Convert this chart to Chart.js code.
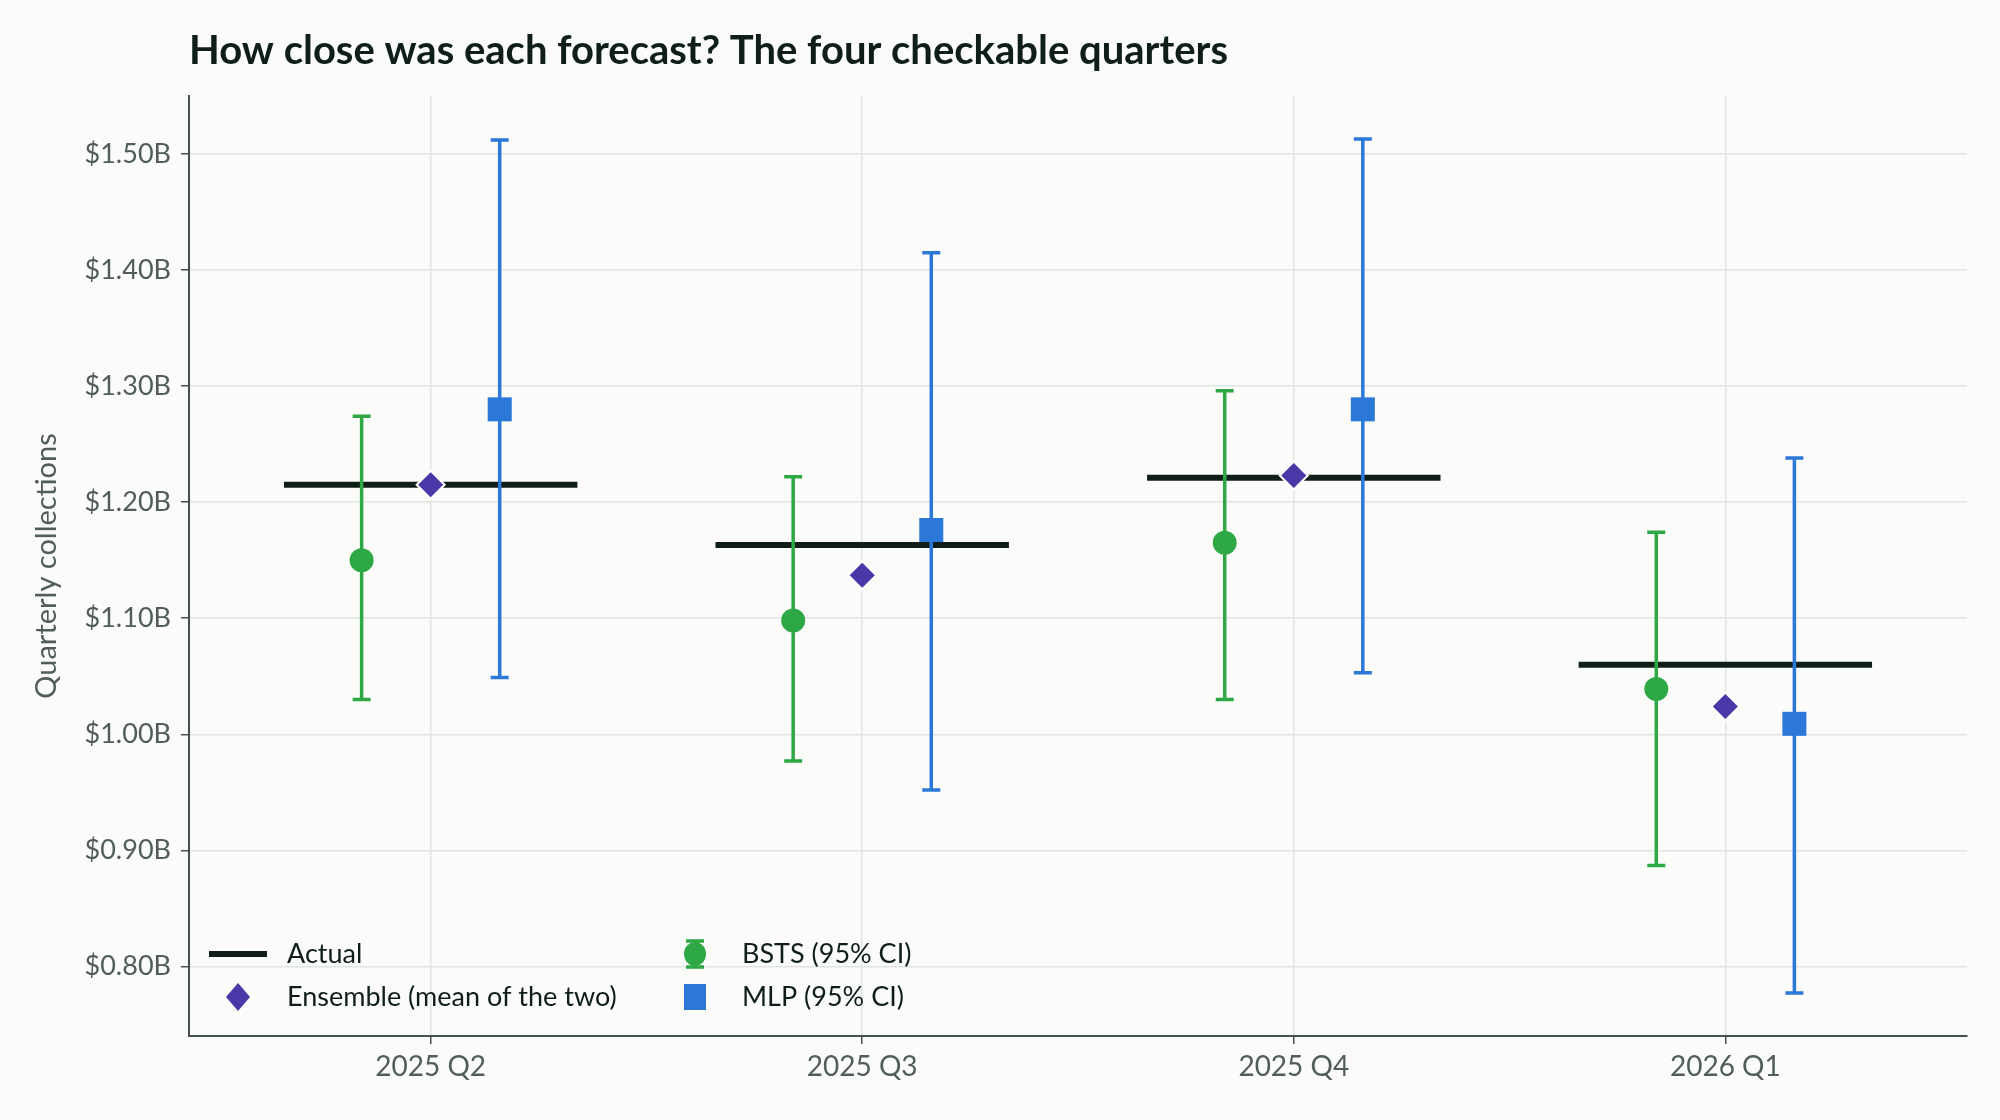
<!DOCTYPE html>
<html>
<head>
<meta charset="utf-8">
<script src="https://cdn.jsdelivr.net/npm/chart.js@4.4.1/dist/chart.umd.min.js"></script>
<style>
  html, body { margin: 0; padding: 0; background: #fbfbf9; }
  #wrap { width: 2000px; height: 1120px; }
</style>
</head>
<body>
<div id="wrap"><canvas id="myChart" width="2000" height="1120"></canvas></div>
<script>
// Chart values, in billions of dollars
const categories = ['2025 Q2', '2025 Q3', '2025 Q4', '2026 Q1'];
const actual = [1.215, 1.163, 1.221, 1.060];
const bstsMean = [1.150, 1.098, 1.165, 1.039];
const bstsLow = [1.030, 0.977, 1.030, 0.887];
const bstsHigh = [1.274, 1.222, 1.296, 1.174];
const mlpMean = [1.280, 1.176, 1.280, 1.009];
const mlpLow = [1.049, 0.952, 1.053, 0.777];
const mlpHigh = [1.512, 1.415, 1.513, 1.238];
const ensemble = [1.215, 1.137, 1.223, 1.024];
const yTicks = [0.8, 0.9, 1.0, 1.1, 1.2, 1.3, 1.4, 1.5];

const GREEN = '#2ea844';
const BLUE = '#2b78d8';
const PURPLE = '#4a38a8';
const DARK = '#0f1f18';
const TICK_COLOR = '#515e58';
const FONT = 'Lato';

// horizontal placement within each quarter
const dodge = 0.16;
const actualHalf = 0.34;

// Actual values drawn as short horizontal segments, broken by null gaps
const actualPoints = [];
categories.forEach((c, i) => {
    actualPoints.push({ x: i - actualHalf, y: actual[i] });
    actualPoints.push({ x: i + actualHalf, y: actual[i] });
    actualPoints.push({ x: i + 0.5, y: null });
});

const bg = {
    id: 'bg',
    beforeDraw(chart) {
        const ctx = chart.ctx;
        ctx.save();
        ctx.fillStyle = '#fbfbf9';
        ctx.fillRect(0, 0, chart.width, chart.height);
        ctx.restore();
    }
};

function drawBar(ctx, x, y1, y2, color) {
    ctx.strokeStyle = color;
    ctx.lineWidth = 3.5;
    ctx.beginPath();
    ctx.moveTo(x, y1); ctx.lineTo(x, y2);
    ctx.moveTo(x - 9, y1); ctx.lineTo(x + 9, y1);
    ctx.moveTo(x - 9, y2); ctx.lineTo(x + 9, y2);
    ctx.stroke();
}

// error bars go above the actual line and below the markers
const errorBars = {
    id: 'errorBars',
    afterDatasetDraw(chart, args) {
        if (args.index !== 3) return;
        const ctx = chart.ctx;
        const xs = chart.scales.x, ys = chart.scales.y;
        ctx.save();
        categories.forEach((c, i) => {
            drawBar(ctx, xs.getPixelForValue(i - dodge), ys.getPixelForValue(bstsLow[i]), ys.getPixelForValue(bstsHigh[i]), GREEN);
            drawBar(ctx, xs.getPixelForValue(i + dodge), ys.getPixelForValue(mlpLow[i]), ys.getPixelForValue(mlpHigh[i]), BLUE);
        });
        ctx.restore();
    }
};

const titleAndLegend = {
    id: 'titleAndLegend',
    afterDraw(chart) {
        const ctx = chart.ctx;
        const a = chart.chartArea;
        ctx.save();
        // title
        ctx.fillStyle = DARK;
        ctx.font = 'bold 40px ' + FONT;
        ctx.textBaseline = 'middle';
        ctx.textAlign = 'left';
        ctx.fillText('How close was each forecast? The four checkable quarters', a.left, 51);

        // legend
        const r1 = a.bottom - 82, r2 = a.bottom - 39;
        const c1 = a.left + 49, c2 = a.left + 506;
        ctx.font = '27px ' + FONT;
        ctx.fillStyle = DARK;

        ctx.strokeStyle = DARK;
        ctx.lineWidth = 6;
        ctx.beginPath();
        ctx.moveTo(c1 - 29, r1); ctx.lineTo(c1 + 29, r1);
        ctx.stroke();
        ctx.fillText('Actual', a.left + 98, r1);

        ctx.fillStyle = PURPLE;
        ctx.beginPath();
        ctx.moveTo(c1, r2 - 14); ctx.lineTo(c1 + 12, r2); ctx.lineTo(c1, r2 + 14); ctx.lineTo(c1 - 12, r2);
        ctx.closePath();
        ctx.fill();
        ctx.fillStyle = DARK;
        ctx.fillText('Ensemble (mean of the two)', a.left + 98, r2);

        drawBar(ctx, c2, r1 - 13, r1 + 13, GREEN);
        ctx.fillStyle = GREEN;
        ctx.beginPath();
        ctx.ellipse(c2, r1, 11, 12, 0, 0, Math.PI * 2);
        ctx.fill();
        ctx.fillStyle = DARK;
        ctx.fillText('BSTS (95% CI)', a.left + 553, r1);

        ctx.fillStyle = BLUE;
        ctx.fillRect(c2 - 11, r2 - 13, 22, 26);
        ctx.fillStyle = DARK;
        ctx.fillText('MLP (95% CI)', a.left + 553, r2);
        ctx.restore();
    }
};

const ctx = document.getElementById('myChart').getContext('2d');
const myChart = new Chart(ctx, {
    type: 'scatter',
    data: {
        datasets: [
            {
                label: 'Ensemble (mean of the two)',
                data: ensemble.map((v, i) => ({ x: i, y: v })),
                pointStyle: 'rectRot',
                pointRadius: 14,
                backgroundColor: PURPLE,
                borderColor: '#ffffff',
                borderWidth: 2
            },
            {
                label: 'MLP (95% CI)',
                data: mlpMean.map((v, i) => ({ x: i + dodge, y: v })),
                pointStyle: 'rect',
                pointRadius: 17,
                backgroundColor: BLUE,
                borderWidth: 0
            },
            {
                label: 'BSTS (95% CI)',
                data: bstsMean.map((v, i) => ({ x: i - dodge, y: v })),
                pointStyle: 'circle',
                pointRadius: 12,
                backgroundColor: GREEN,
                borderWidth: 0
            },
            {
                label: 'Actual',
                data: actualPoints,
                showLine: true,
                spanGaps: false,
                pointRadius: 0,
                borderColor: DARK,
                borderWidth: 6,
                borderCapStyle: 'butt'
            }
        ]
    },
    options: {
        responsive: false,
        animation: false,
        devicePixelRatio: 1,
        layout: { padding: { top: 96, right: 33, left: 0, bottom: 0 } },
        plugins: {
            legend: { display: false },
            tooltip: { enabled: false }
        },
        scales: {
            x: {
                type: 'linear',
                min: -0.56,
                max: 3.56,
                afterBuildTicks: s => { s.ticks = categories.map((c, i) => ({ value: i })); },
                afterFit: s => { s.height = 84; },
                ticks: {
                    callback: v => categories[v],
                    color: TICK_COLOR,
                    font: { family: FONT, size: 28 },
                    padding: 6
                },
                grid: { color: '#dfe5e3', lineWidth: 1.5, tickLength: 8, tickColor: '#46504b', tickWidth: 1.5 },
                border: { color: '#46504b', width: 2 }
            },
            y: {
                min: 0.74,
                max: 1.55,
                afterBuildTicks: s => { s.ticks = yTicks.map(v => ({ value: v })); },
                afterFit: s => { s.width = 189; },
                ticks: {
                    callback: v => '$' + v.toFixed(2) + 'B',
                    color: TICK_COLOR,
                    font: { family: FONT, size: 27 },
                    padding: 10
                },
                title: {
                    display: true,
                    text: 'Quarterly collections',
                    color: TICK_COLOR,
                    font: { family: FONT, size: 29 },
                    padding: { top: 29, bottom: 0 }
                },
                grid: { color: '#dfe5e3', lineWidth: 1.5, tickLength: 8, tickColor: '#46504b', tickWidth: 1.5 },
                border: { color: '#46504b', width: 2 }
            }
        }
    },
    plugins: [bg, errorBars, titleAndLegend]
});
</script>
</body>
</html>
